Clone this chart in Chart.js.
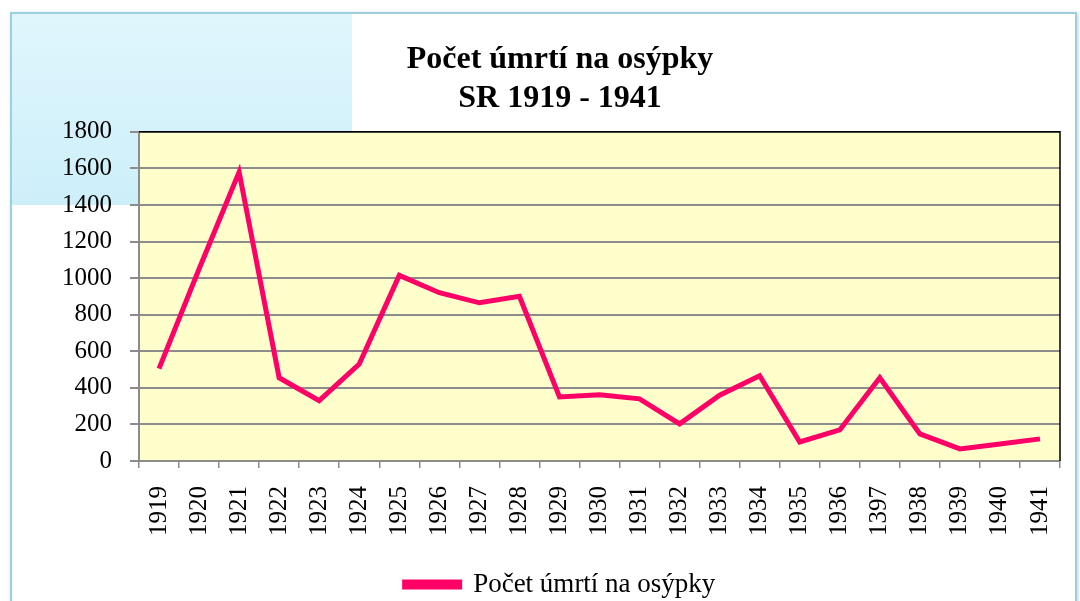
<!DOCTYPE html>
<html>
<head>
<meta charset="utf-8">
<script src="https://cdn.jsdelivr.net/npm/chart.js@4.4.1/dist/chart.umd.min.js"></script>
<style>
  html, body { margin: 0; padding: 0; background: #fff; overflow: hidden; }
  #wrap  { position: relative; width: 1080px; height: 601px; }
  #frame {
    position: absolute; left: 10px; top: 12px; width: 1063px; height: 620px;
    border: 2px solid #9cd0de; box-shadow: 1px 1px 3px rgba(120,170,190,0.5);
  }
  #blue  {
    position: absolute; left: 12px; top: 14px; width: 340px; height: 191px;
    background: linear-gradient(to bottom, #e0f6fd, #cdeffa);
  }
  canvas { position: absolute; left: 0; top: 0; }
</style>
</head>
<body>
<div id="wrap">
  <div id="frame"></div>
  <div id="blue"></div>
  <canvas id="chart" width="1080" height="601"></canvas>
</div>
<script>
// ── Data ──────────────────────────────────────
const years  = ['1919','1920','1921','1922','1923','1924','1925','1926',
                '1927','1928','1929','1930','1931','1932','1933','1934',
                '1935','1936','1397','1938','1939','1940','1941'];
const deaths = [505, 1050, 1580, 455, 330, 530, 1015, 920,
                865, 900, 350, 362, 340, 203, 360, 466,
                104, 170, 455, 148, 66, 93, 121];
const yTicks = [0, 200, 400, 600, 800, 1000, 1200, 1400, 1600, 1800];

const seriesName = 'Počet úmrtí na osýpky';
const titleLines = ['Počet úmrtí na osýpky', 'SR 1919 - 1941'];

// ── Styles ────────────────────────────────────
const SERIF = '"Liberation Serif", "Times New Roman", serif';
const PINK  = '#ff0066';
const GRID  = '#8c8c8c';

// yellow plot area + black top/right edge
const plotBg = {
  id: 'plotBg',
  beforeDraw(chart) {
    const { ctx, chartArea: a } = chart;
    ctx.save();
    ctx.fillStyle = '#ffffcc';
    ctx.fillRect(a.left, a.top, a.right - a.left, a.bottom - a.top);
    ctx.restore();
  },
  afterDraw(chart) {
    const { ctx, chartArea: a } = chart;
    ctx.save();
    ctx.strokeStyle = '#000';
    ctx.lineWidth = 1.5;
    ctx.beginPath();
    ctx.moveTo(a.left, a.top);
    ctx.lineTo(a.right, a.top);
    ctx.lineTo(a.right, a.bottom);
    ctx.stroke();
    ctx.restore();
  }
};

new Chart(document.getElementById('chart').getContext('2d'), {
  type: 'line',
  data: {
    labels: years,
    datasets: [{
      label:           seriesName,
      data:            deaths,
      borderColor:     PINK,
      backgroundColor: PINK,
      borderWidth:     5,
      pointRadius:     0,
      tension:         0,
    }]
  },
  options: {
    responsive: false,
    animation:  false,
    layout: { padding: { left: 60, right: 20, top: 20, bottom: -7 } },
    plugins: {
      title: {
        display: true,
        text:    titleLines,
        color:   '#000',
        font:    { family: SERIF, size: 32, weight: 'bold', lineHeight: 1.2 },
        padding: { top: 21, bottom: 14 }
      },
      legend: {
        position: 'bottom',
        labels: {
          color:     '#000',
          font:      { family: SERIF, size: 27 },
          boxWidth:  55,
          boxHeight: 5,
          padding:   8
        }
      },
      tooltip: { enabled: false }
    },
    scales: {
      x: {
        offset: true,
        grid:   { drawOnChartArea: false, color: GRID, tickLength: 7, lineWidth: 1.5, offset: true },
        border: { color: GRID, width: 2 },
        ticks:  {
          color: '#000', font: { family: SERIF, size: 25 },
          minRotation: 90, maxRotation: 90, padding: 18, autoSkip: false
        },
        afterFit: s => { s.height = 102; s.paddingRight = 0; s.paddingLeft = 0; }
      },
      y: {
        min: 0, max: 1800,
        afterBuildTicks: s => { s.ticks = yTicks.map(v => ({ value: v })); },
        grid:   { color: GRID, lineWidth: 2, tickLength: 9 },
        border: { color: GRID, width: 2 },
        ticks:  {
          color: '#000', font: { family: SERIF, size: 25 }, padding: 18,
          callback: v => String(v)
        },
        afterFit: s => { s.width = 79; }
      }
    }
  },
  plugins: [plotBg]
});
</script>
</body>
</html>
